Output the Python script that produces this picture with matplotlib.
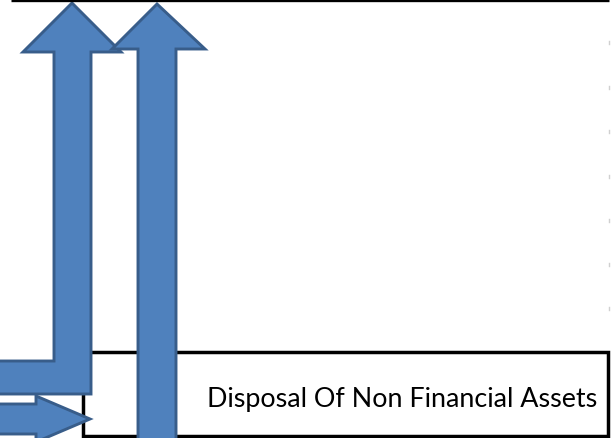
import matplotlib
matplotlib.use('Agg')
import matplotlib.pyplot as plt
from matplotlib.patches import Polygon, Rectangle

# shape outlines in picture pixels (x right, y down)
left_arrow = [(-5, 362), (54, 362), (54, 53), (23, 53), (72, 4), (121, 53),
              (91, 53), (91, 395), (-5, 395)]
right_up_arrow = [(138, 445), (138, 50), (112, 50), (157, 5), (205, 50),
                  (176, 50), (176, 445)]
small_arrow = [(-5, 405), (36, 405), (36, 397), (90, 420), (36, 443),
               (36, 435), (-5, 435)]
box = (83, 353, 525, 84)
label = 'Disposal Of Non Financial Assets'
tick_rows = [43, 88, 132, 177, 221, 265, 309]

fill = '#4f81bd'
edge = '#385d8a'

fig = plt.figure(figsize=(6.16, 4.39), dpi=100)
ax = fig.add_axes([0, 0, 1, 1])
ax.set_xlim(0, 616)
ax.set_ylim(439, 0)
ax.axis('off')

# top border line
ax.plot([11, 609], [1, 1], color='black', lw=2.4, solid_capstyle='butt')

# faint ticks on right
for y in tick_rows:
    ax.plot([609, 609], [y - 1.5, y + 1.5], color='#d0d0d0', lw=1)

bx, by, bw, bh = box
ax.add_patch(Rectangle((bx, by), bw, bh, fill=False, edgecolor='black', lw=2.5))
ax.text(207, 407, label, fontsize=19.4, family='Lato', va='baseline', ha='left')

for pts in (left_arrow, right_up_arrow, small_arrow):
    ax.add_patch(Polygon(pts, closed=True, facecolor=fill, edgecolor=edge,
                         lw=2.1, joinstyle='miter'))

fig.savefig('out.png', dpi=100)
